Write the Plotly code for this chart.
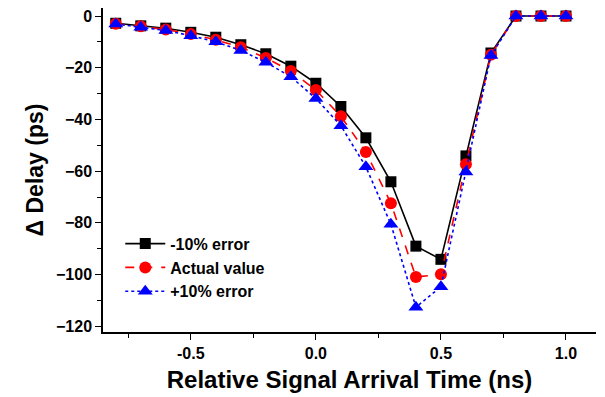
import plotly.graph_objects as go

# Relative signal arrival time (ns)
arrival_ns = [-0.8, -0.7, -0.6, -0.5, -0.4, -0.3, -0.2, -0.1, 0.0, 0.1,
              0.2, 0.3, 0.4, 0.5, 0.6, 0.7, 0.8, 0.9, 1.0]

# Delay change (ps) for the three parameter cases
delay_minus10 = [-2.8, -3.8, -4.7, -6.3, -8.2, -11.1, -14.6, -19.4, -26.0, -35.0,
                 -47.1, -64.1, -89.0, -94.1, -54.1, -14.3, 0.0, 0.0, 0.0]
delay_actual = [-3.0, -4.0, -5.2, -7.0, -9.2, -12.1, -16.2, -21.3, -28.6, -38.8,
                -52.6, -72.4, -100.9, -99.9, -57.3, -15.0, 0.0, 0.0, 0.0]
delay_plus10 = [-3.1, -4.3, -5.6, -7.6, -10.0, -13.3, -17.9, -23.5, -31.9, -42.4,
                -58.3, -80.5, -112.6, -104.7, -60.3, -15.3, 0.0, 0.0, 0.0]

x_ticks = [-0.5, 0.0, 0.5, 1.0]
x_tick_text = ["-0.5", "0.0", "0.5", "1.0"]
y_ticks = [0, -20, -40, -60, -80, -100, -120]

series = [
    ("-10% error", delay_minus10, "black", "solid", "square", 11),
    ("Actual value", delay_actual, "red", "dash", "circle", 12),
    ("+10% error", delay_plus10, "blue", "dot", "triangle-up", 13),
]

fig = go.Figure()
for name, ys, color, dash, symbol, size in series:
    fig.add_trace(go.Scatter(
        x=arrival_ns, y=ys, name=name, mode="lines+markers",
        line=dict(color=color, width=1.6, dash=dash),
        marker=dict(color=color, symbol=symbol, size=size, line=dict(width=0)),
    ))

font_family = "Liberation Sans, Arial, sans-serif"
axis_common = dict(
    showline=True, linecolor="black", linewidth=1.5, mirror=False,
    showgrid=False, zeroline=False, ticks="outside", ticklen=6,
    tickwidth=1.3, tickcolor="black",
    tickfont=dict(family=font_family, size=16, color="black", weight="bold"),
)

fig.update_xaxes(
    range=[-0.851, 1.12], tickvals=x_ticks, ticktext=x_tick_text,
    minor=dict(dtick=0.25, tick0=0, ticks="outside", ticklen=4,
               tickwidth=1.3, tickcolor="black"),
    title=dict(text="Relative Signal Arrival Time (ns)", standoff=10,
               font=dict(family=font_family, size=24, color="black", weight="bold")),
    **axis_common,
)
fig.update_yaxes(
    range=[-122.2, 3.1], tickvals=y_ticks,
    minor=dict(dtick=10, tick0=0, ticks="outside", ticklen=4,
               tickwidth=1.3, tickcolor="black"),
    title=dict(text="Δ Delay (ps)", standoff=6,
               font=dict(family=font_family, size=23, color="black", weight="bold")),
    **axis_common,
)

fig.update_layout(
    width=605, height=397,
    margin=dict(l=103, r=9, t=8, b=62),
    paper_bgcolor="white", plot_bgcolor="white",
    showlegend=True,
    legend=dict(
        x=0.035, y=0.325, xanchor="left", yanchor="top",
        bgcolor="rgba(0,0,0,0)", tracegroupgap=0, itemsizing="trace",
        itemwidth=40,
        font=dict(family=font_family, size=16, color="black", weight="bold"),
    ),
)

fig.write_html("out.html")
